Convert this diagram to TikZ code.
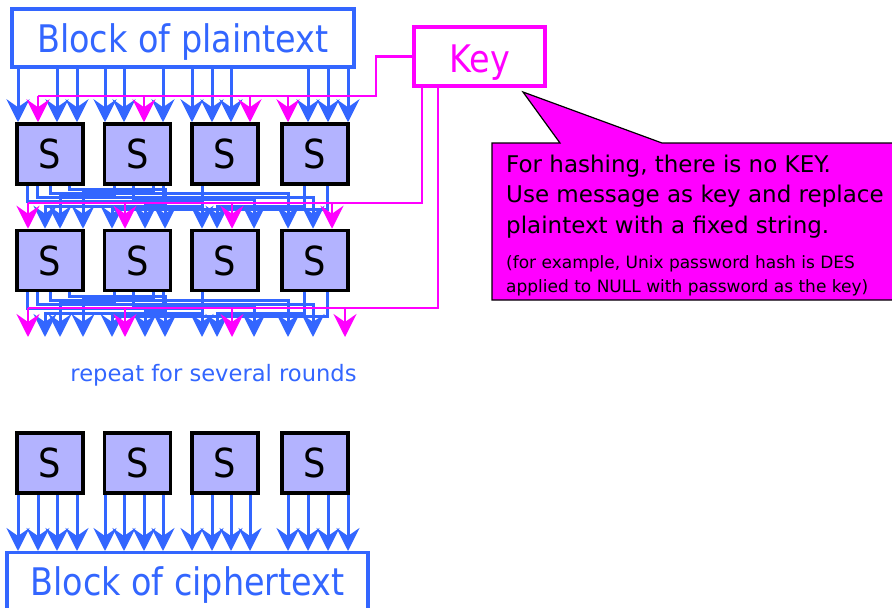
\documentclass[tikz,border=0pt]{standalone}
\usepackage{fontspec}
\setmainfont{DejaVu Sans}
\newfontfamily\tah[FakeStretch=0.88]{DejaVu Sans}
\usetikzlibrary{arrows.meta}
\definecolor{blu}{RGB}{51,102,255}
\definecolor{mag}{RGB}{255,0,255}
\definecolor{sfill}{RGB}{179,179,255}
\begin{document}
\begin{tikzpicture}[x=1pt,y=-1pt,
  sbox/.style={draw=black, line width=3.5pt, fill=sfill, minimum width=66pt, minimum height=60pt, inner sep=0pt, font=\tah\fontsize{40}{40}\selectfont},
  bbox/.style={draw=blu, line width=3.2pt, fill=white, inner sep=0pt},
  bigtxt/.style={anchor=base, inner sep=0pt, font=\tah\fontsize{38}{40}\selectfont},
  wire/.style={draw=blu, line width=3pt},
  kwire/.style={draw=mag, line width=2.6pt},
  tipb/.style={-{Stealth[length=23pt,width=23pt,inset=8pt]}},
  calltxt/.style={anchor=base west, inner sep=0pt, text=black, font=\fontsize{23}{25}\selectfont},
  callsmall/.style={anchor=base west, inner sep=0pt, text=black, font=\fontsize{17}{19}\selectfont}
]
\useasboundingbox (0,0) rectangle (892,608);
\clip (0,0) rectangle (892,608);

\node[bbox, minimum width=342pt, minimum height=58pt] (pt) at (183,38) {};
\node[bigtxt, text=blu] (ptl) at (183,52.7) {Block of plaintext};
\node[draw=mag, line width=3.2pt, fill=white, minimum width=131pt, minimum height=59pt] (key) at (479.5,56.5) {};
\node[bigtxt, text=mag] (keyl) at (479.5,72) {Key};

\coordinate (k1) at (376,96);
\coordinate (k2) at (28,203);
\coordinate (k3) at (28,308);
\coordinate (l2) at (0,337);

\foreach \i/\x in {1/50,2/137.5,3/225,4/315}{
  \path (\x,154) coordinate (pa\i);
  \path (\x,260.5) coordinate (pb\i);
  \path (\x,463) coordinate (pc\i);
}
\foreach \i in {1,...,4}{
  \node[sbox, draw=none, fill=none] (a\i) at (pa\i) {};
  \node[sbox, draw=none, fill=none] (b\i) at (pb\i) {};
  \node[sbox, draw=none, fill=none] (c\i) at (pc\i) {};
}

% plaintext to round 1
\foreach \x/\b in {18/1,57/1,77/1,105/2,124/2,163/2,192/3,212/3,231/3,308/4,328/4,348/4}
  \draw[wire,tipb] (pt.south -| \x,0) -- (a\b.north -| \x,0);

% key to round 1
\draw[kwire] (key.west) -| (k1) -- (k1 -| 38,0);
\foreach \x/\b in {38/1,144/2,250/3,288/4}
  \draw[kwire,tipb] (k1 -| \x,0) -- (a\b.north -| \x,0);

% permutation layer 1
\foreach \sb/\ox/\lv/\db/\ix in {1/27/16/3/202, 1/37/12/4/313, 1/50/8/4/288, 1/69/4/2/165,
    2/114/10/1/60, 2/133/14/3/254, 2/153/6/1/83, 2/163/18/2/145,
    3/202/21/1/45, 4/304/21/3/217, 4/327/24/2/112}
  \draw[wire,tipb] (a\sb.south -| \ox,0) -- ++(0,\lv) -| (b\db.north -| \ix,0);

% key to round 2
\draw[kwire] (key.south -| 422,0) |- (k2);
\foreach \x/\b in {28/1,125/2,232/3,332/4}
  \draw[kwire,tipb] (k2 -| \x,0) -- (b\b.north -| \x,0);

% permutation layer 2
\foreach \sb/\ox/\lv/\ix in {1/27/16/202, 1/37/12/313, 1/50/8/288, 1/69/4/165,
    2/114/10/60, 2/133/14/254, 2/153/6/83, 2/163/18/145,
    3/202/21/45, 4/304/21/217, 4/327/24/112}
  \draw[wire,tipb] (b\sb.south -| \ox,0) -- ++(0,\lv) -| (l2 -| \ix,0);

% key to round 3
\draw[kwire] (key.south -| 438,0) |- (k3);
\foreach \x in {28,125,232,345}
  \draw[kwire,tipb] (k3 -| \x,0) -- (l2 -| \x,0);

% S-boxes
\foreach \i in {1,...,4}{
  \node[sbox] (sa\i) at (pa\i) {S};
  \node[sbox] (sb\i) at (pb\i) {S};
  \node[sbox] (sc\i) at (pc\i) {S};
}

\node[anchor=base, inner sep=0pt, text=blu, font=\fontsize{22.6}{24}\selectfont] (rep) at (213.5,381) {repeat for several rounds};

% ciphertext
\node[bbox, minimum width=361pt, minimum height=80pt, anchor=north] (ct) at (187.5,551) {};
\node[bigtxt, text=blu] (ctl) at (187.5,595) {Block of ciphertext};
\foreach \x/\b in {18/1,38/1,57/1,77/1,105/2,124/2,144/2,163/2,192/3,212/3,231/3,250/3,288/4,308/4,328/4,348/4}
  \draw[wire,tipb] (sc\b.south -| \x,0) -- (ct.north -| \x,0);

% callout
\draw[fill=mag, draw=black, line width=1.2pt, line join=miter] (492,143) -- (560,143) -- (523,92) -- (662,143) -- (900,143) -- (900,300) -- (492,300) -- cycle;
\node[calltxt] (t1) at (506,172) {For hashing, there is no KEY.};
\node[calltxt] (t2) at (506,202) {Use message as key and replace};
\node[calltxt] (t3) at (506,233) {plaintext with a fixed string.};
\node[callsmall] (t4) at (506,268) {(for example, Unix password hash is DES};
\node[callsmall] (t5) at (506,292) {applied to NULL with password as the key)};
\end{tikzpicture}
\end{document}
